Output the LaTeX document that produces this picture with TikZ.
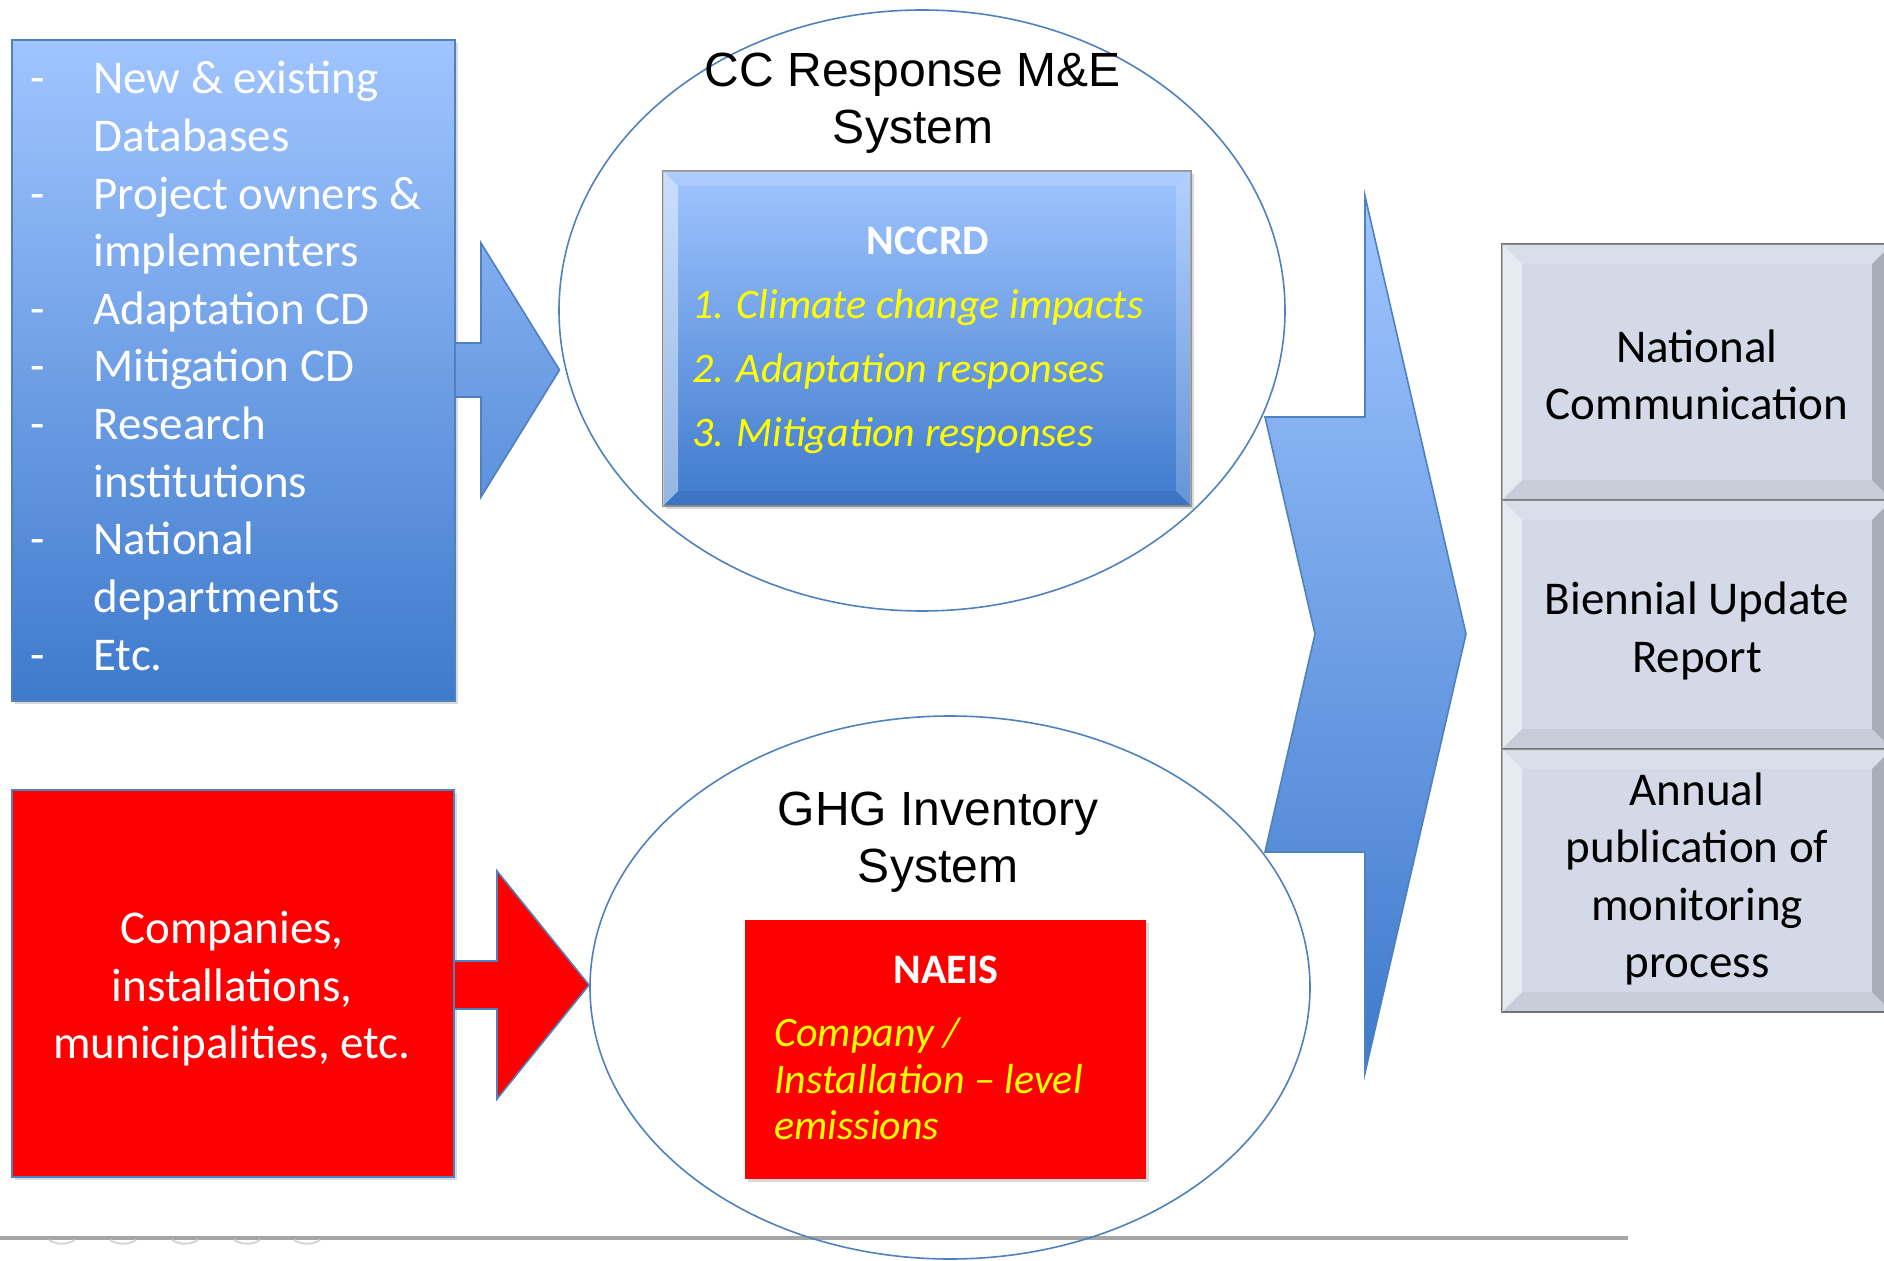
\documentclass[tikz,border=0pt]{standalone}
\usepackage{fontspec}
\setmainfont{Carlito}
\newfontfamily\arialfont{Liberation Sans}
\usetikzlibrary{shadows,shapes.geometric}

\definecolor{boxtop}{RGB}{160,197,255}
\definecolor{boxbot}{RGB}{62,122,204}
\definecolor{rimblue}{RGB}{79,129,189}
\definecolor{reportfill}{RGB}{211,217,230}
\definecolor{reportrim}{RGB}{118,118,118}
\definecolor{itemyellow}{RGB}{255,255,0}
\definecolor{footgray}{RGB}{165,165,165}

% bevelled frame: x1, y1, x2, y2, inset, colour of the right side
\newcommand{\bevelframe}[6]{%
  \fill[white, opacity=0.45] (#1,#2) -- ({#1+#5},{#2+#5}) -- ({#1+#5},{#4-#5}) -- (#1,#4) -- cycle;
  \fill[white, opacity=0.15] (#1,#2) -- (#3,#2) -- ({#3-#5},{#2+#5}) -- ({#1+#5},{#2+#5}) -- cycle;
  \fill[#6, opacity=0.2] (#3,#2) -- (#3,#4) -- ({#3-#5},{#4-#5}) -- ({#3-#5},{#2+#5}) -- cycle;
  \fill[black, opacity=0.05] (#1,#4) -- ({#1+#5},{#4-#5}) -- ({#3-#5},{#4-#5}) -- (#3,#4) -- cycle;}

\newcommand{\srcfont}{\fontsize{23.5}{28.7}\selectfont}
\newcommand{\titlefont}{\arialfont\fontsize{24}{28.5}\selectfont}
\newcommand{\itemfont}{\fontsize{21}{23}\selectfont\itshape}

\tikzset{
  shadowed/.style={drop shadow={shadow xshift=1.5pt, shadow yshift=-1.5pt, opacity=0.3}},
  srctext/.style={text=white, font=\srcfont, inner sep=0pt},
  systitle/.style={align=center, font=\titlefont, inner sep=0pt},
  itemtext/.style={text=itemyellow, font=\itemfont, inner sep=0pt, anchor=base west},
  headtext/.style={text=white, font=\fontsize{21}{23}\selectfont\bfseries, inner sep=0pt},
  reporttext/.style={align=center, font=\srcfont, inner sep=0pt},
  system/.style={draw=rimblue, line width=0.8pt, ellipse, inner sep=0pt}
}

\begin{document}
\begin{tikzpicture}[x=0.5pt,y=-0.5pt]
\useasboundingbox (0,0) rectangle (1884,1261);

% footer line
\draw[footgray, line width=1.6pt] (0,1238) -- (1628,1238);
\foreach \x in {62,123,185,247,307}
  \draw[footgray!45, line width=1pt] ({\x-13},1240) .. controls ({\x-5},1245) and ({\x+5},1245) .. ({\x+13},1240);

% systems
\node[system, minimum width=363pt, minimum height=300.5pt] (ccsys) at (922,310.5) {};
\node[system, minimum width=360pt, minimum height=271.5pt] (ghgsys) at (950,987.5) {};

% data sources
\path[shadowed, draw=rimblue, line width=0.8pt, top color=boxtop, bottom color=boxbot] (12,40) rectangle (455,701);
\foreach \i in {1,3,5,6,7,9,11}
  \node[srctext, anchor=base] (dash\i) at (38,{94+(\i-1)*57.6}) {-};
\foreach \txt [count=\i] in {New \& existing, Databases, Project owners \&, implementers, Adaptation CD, Mitigation CD, Research, institutions, National, departments, Etc.}
  \node[srctext, anchor=base west] (src\i) at (93,{94+(\i-1)*57.6}) {\txt};

\path[shadowed, draw=rimblue, line width=0.8pt, fill=red] (12,790) rectangle (454,1177);
\node[srctext, align=center] (emitters) at (232,989) {Companies,\\installations,\\municipalities, etc.};

% input arrows
\shadedraw[draw=rimblue, line width=0.8pt, top color=boxtop!69!boxbot, bottom color=boxtop!31!boxbot]
  (455,343) -- (481,343) -- (481,243) -- (559.5,370) -- (481,497) -- (481,397) -- (455,397) -- cycle;
\filldraw[draw=rimblue, line width=0.8pt, fill=red]
  (454,961) -- (497,961) -- (497,871) -- (589,985) -- (497,1099) -- (497,1009) -- (454,1009) -- cycle;

% CC response M&E system
\node[systitle] (cctitle) at (913,103) {CC Response M\&E\\System};
\path[shadowed, draw=reportrim!80, line width=0.8pt, top color=boxtop, bottom color=boxbot] (663,171) rectangle (1191,506);
\bevelframe{663}{171}{1191}{506}{15}{white}
\node[headtext] (nccrd) at (928,241) {NCCRD};
\foreach \txt [count=\i] in {1. Climate change impacts, 2. Adaptation responses, 3. Mitigation responses}
  \node[itemtext] (ccitem\i) at (692,{318.5+(\i-1)*63.8}) {\txt};

% GHG inventory system
\node[systitle] (ghgtitle) at (938,842) {GHG Inventory\\System};
\path[shadowed, fill=red] (745,920) rectangle (1146,1179);
\node[headtext] (naeis) at (946,970) {NAEIS};
\foreach \txt [count=\i] in {Company /, Installation -- level, emissions}
  \node[itemtext] (ghgitem\i) at (774,{1046.5+(\i-1)*46.5}) {\txt};

% reporting arrow
\shadedraw[draw=rimblue, line width=0.8pt, top color=boxtop, bottom color=boxbot]
  (1365,196) -- (1466,634) -- (1365,1073) -- (1365,852) -- (1265,852) -- (1315,634) -- (1265,417) -- (1365,417) -- cycle;

% reports
\foreach \ya/\yb in {244/500, 500/749, 749/1012} {
  \filldraw[draw=reportrim, line width=1.2pt, fill=reportfill] (1502,\ya) rectangle (1892,\yb);
  \bevelframe{1502}{\ya}{1892}{\yb}{20}{black}
}
\node[reporttext] (natcom) at (1697,375) {National\\Communication};
\node[reporttext] (bur) at (1697,631) {Biennial Update\\Report};
\node[reporttext] (annual) at (1697,879) {Annual\\publication of\\monitoring\\process};

\end{tikzpicture}
\end{document}
